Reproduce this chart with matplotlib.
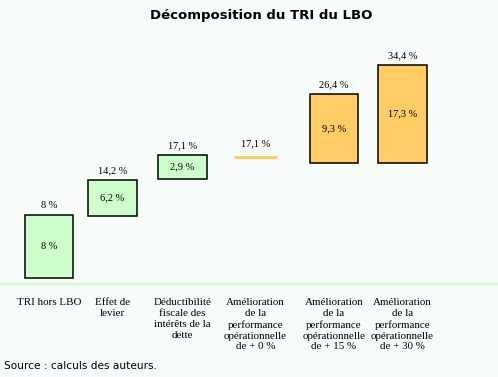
import matplotlib.pyplot as plt
from matplotlib.patches import Rectangle

# ==========================================
# 1. Données
# ==========================================
categories = [
    'TRI hors LBO',
    'Effet de\nlevier',
    'Déductibilité\nfiscale des\nintérêts de la\ndette',
    'Amélioration\nde la\nperformance\nopérationnelle\nde + 0 %',
    'Amélioration\nde la\nperformance\nopérationnelle\nde + 15 %',
    'Amélioration\nde la\nperformance\nopérationnelle\nde + 30 %',
]
tri_cumule = [8, 14.2, 17.1, 17.1, 26.4, 34.4]      # étiquette au-dessus
contribution = [8, 6.2, 2.9, None, 9.3, 17.3]       # étiquette dans la barre

# bas / haut des barres tels que dessinés (échelle du dessin, pas proportionnelle)
bas_barre = [0, 10.0, 16.0, 19.5, 18.5, 18.5]
haut_barre = [10.2, 15.8, 19.8, 19.5, 29.7, 34.4]
type_barre = ['vert', 'vert', 'vert', 'ligne', 'orange', 'orange']

# ==========================================
# 2. Mise en page
# ==========================================
FOND = '#f8fcf8'
VERT = '#ccffcc'
ORANGE = '#ffcc66'
centres = [0, 0.9, 1.89, 2.92, 4.03, 5.0]
LARGEUR = 0.69

def fmt(v):
    return f'{v:g} %'.replace('.', ',')

fig = plt.figure(figsize=(4.98, 3.77), dpi=100, facecolor=FOND)
ax = fig.add_axes([0, 0, 1, 1])
ax.set_facecolor(FOND)
ax.set_xlim(-0.693, 6.351)
ax.set_ylim(-15.97, 44.84)
ax.axis('off')

serif = ['Liberation Serif', 'DejaVu Serif']

for x, b, h, t, cum, con in zip(centres, bas_barre, haut_barre, type_barre,
                                tri_cumule, contribution):
    if t == 'ligne':
        ax.plot([x - 0.3, x + 0.3], [h, h], color=ORANGE, lw=2.2,
                solid_capstyle='butt')
        ax.annotate(fmt(cum), (x, h), xytext=(0, 9.5), textcoords='offset points',
                    ha='center', va='center', fontsize=7.5, family=serif)
        continue
    couleur = VERT if t == 'vert' else ORANGE
    ax.add_patch(Rectangle((x - LARGEUR / 2, b), LARGEUR, h - b,
                           facecolor=couleur, edgecolor='black', lw=1.1))
    ax.annotate(fmt(cum), (x, h), xytext=(0, 6.5), textcoords='offset points',
                ha='center', va='center', fontsize=7.5, family=serif)
    ax.text(x, (b + h) / 2, fmt(con), ha='center', va='center',
            fontsize=7.5, family=serif)

# ligne de base verte
ax.axhline(-0.9, color=VERT, lw=1.6)

# libellés des catégories
for x, lab in zip(centres, categories):
    ax.text(x, -3.3, lab, ha='center', va='top', fontsize=7.9,
            family=serif, linespacing=1.25)

fig.text(0.524, 0.96, 'Décomposition du TRI du LBO', ha='center', va='center',
         fontsize=9.5, fontweight='bold', family='DejaVu Sans')
fig.text(0.008, 0.029, 'Source : calculs des auteurs.', ha='left', va='center',
         fontsize=7.6, family='DejaVu Sans')

fig.savefig('out.png', dpi=100, facecolor=FOND)
